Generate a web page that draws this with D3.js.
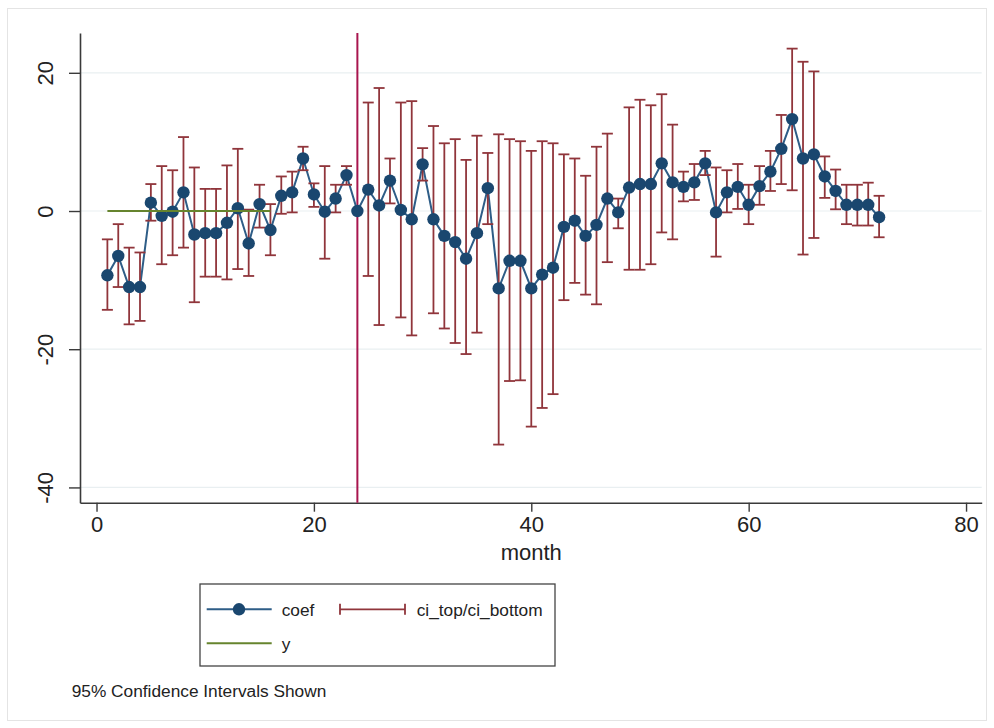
<!DOCTYPE html>
<html>
<head>
<meta charset="utf-8">
<script src="https://cdn.jsdelivr.net/npm/d3@7"></script>
<style>
  html, body { margin: 0; padding: 0; background: #ffffff; }
  svg { display: block; }
  text { font-family: "Liberation Sans", Arial, Helvetica, sans-serif; fill: #222; }
</style>
</head>
<body>
<svg id="chart" width="994" height="728"></svg>
<script>
// ---- data ----
const months = d3.range(1, 73);
const coef = [
  -9.3, -6.5, -11.0, -11.0, 1.2, -0.7, -0.1, 2.7, -3.4, -3.2,
  -3.2, -1.7, 0.4, -4.7, 1.0, -2.75, 2.2, 2.7, 7.6, 2.4,
  -0.1, 1.8, 5.2, 0.0, 3.1, 0.8, 4.4, 0.15, -1.2, 6.75,
  -1.2, -3.6, -4.5, -6.9, -3.2, 3.3, -11.2, -7.2, -7.2, -11.2,
  -9.2, -8.2, -2.3, -1.4, -3.6, -2.0, 1.8, -0.2, 3.4, 3.9,
  3.9, 6.9, 4.15, 3.5, 4.15, 6.9, -0.2, 2.7, 3.5, 0.9,
  3.6, 5.7, 9.0, 13.3, 7.6, 8.2, 5.0, 2.9, 0.9, 0.9,
  0.9, -0.9
];
const ciTop = [
  -4.1, -1.9, -5.3, -6.0, 3.9, 6.5, 5.9, 10.7, 6.3, 3.2,
  3.2, 6.6, 9.0, 0.2, 3.8, 1.0, 5.0, 5.7, 9.3, 4.0,
  6.5, 3.8, 6.5, null, 15.7, 17.8, 7.6, 15.7, 15.9, 9.1,
  12.3, 9.8, 10.4, 7.4, 10.9, 8.4, 11.1, 10.4, 10.1, 8.7,
  10.1, 9.8, 8.2, 7.6, 5.1, 9.3, 11.2, 1.8, 15.0, 16.1,
  15.3, 16.9, 12.5, 5.7, 6.8, 8.7, 6.3, 5.9, 6.8, 3.8,
  6.5, 8.7, 13.9, 23.5, 21.6, 20.2, 7.9, 6.0, 3.8, 3.8,
  4.1, 2.2
];
const ciBottom = [
  -14.3, -11.0, -16.4, -15.9, -1.4, -7.7, -6.4, -5.3, -13.2, -9.5,
  -9.5, -9.9, -8.4, -9.4, -2.4, -6.4, -0.4, -0.2, 5.9, 0.6,
  -6.9, -0.2, 3.8, null, -9.4, -16.5, 1.1, -15.4, -18.0, 4.4,
  -14.8, -17.0, -19.1, -20.7, -17.6, -1.9, -33.8, -24.6, -24.5, -31.2,
  -28.5, -26.5, -12.9, -10.4, -12.1, -13.5, -7.4, -2.5, -8.5, -8.5,
  -7.7, -3.1, -4.1, 1.4, 1.6, 5.2, -6.6, -0.2, 0.3, -1.9,
  0.9, 2.9, 3.9, 3.0, -6.3, -3.9, 1.9, 0.25, -1.9, -2.1,
  -2.1, -3.8
];
const yMonths = d3.range(1, 17);
const yValues = yMonths.map(() => 0);
const xTicks = [0, 20, 40, 60, 80];
const yTicks = [-40, -20, 0, 20];
const xLineAt = 24;
const legendLabels = ["coef", "ci_top/ci_bottom", "y"];
const xTitle = "month";
const noteText = "95% Confidence Intervals Shown";

// ---- colours ----
const NAVY = "#1a476f";
const NAVY_LINE = "#2e5d87";
const MAROON = "#90353b";
const GREEN = "#66842e";
const XLINE = "#a8154e";
const AXIS = "#3a3a3a";
const GRID = "#e9eff1";

const svg = d3.select("#chart");

// outer frame
svg.append("rect").attr("x", 7.5).attr("y", 8.5).attr("width", 979).attr("height", 712)
  .attr("fill", "#ffffff").attr("stroke", "#e4e4e4").attr("stroke-width", 1);

const x = d3.scaleLinear().domain([-1.52, 81.44]).range([80, 981.7]);
const y = d3.scaleLinear().domain([-42.21, 25.76]).range([502.7, 33]);

const fmt = d => String(d);

// grid
svg.append("g").selectAll("line").data(yTicks).join("line")
  .attr("x1", 80).attr("x2", 981.7)
  .attr("y1", d => y(d)).attr("y2", d => y(d))
  .attr("stroke", GRID).attr("stroke-width", 1.2);

// axes
const xAxis = d3.axisBottom(x).tickValues(xTicks).tickSize(9).tickPadding(5).tickSizeOuter(0).tickFormat(fmt);
const gx = svg.append("g").attr("transform", `translate(0,${y.range()[0]})`).call(xAxis);
gx.select(".domain").attr("stroke", AXIS).attr("stroke-width", 1.6);
gx.selectAll(".tick line").attr("stroke", AXIS).attr("stroke-width", 1.4);
gx.selectAll(".tick text").attr("font-size", 22).attr("fill", "#222")
  .style("font-family", '"Liberation Sans", Arial, sans-serif');

const yAxis = d3.axisLeft(y).tickValues(yTicks).tickSize(11).tickSizeOuter(0).tickFormat(fmt);
const gy = svg.append("g").attr("transform", `translate(${x.range()[0]},0)`).call(yAxis);
gy.select(".domain").attr("stroke", AXIS).attr("stroke-width", 1.6);
gy.selectAll(".tick line").attr("stroke", AXIS).attr("stroke-width", 1.4);
gy.selectAll(".tick text").remove();
gy.selectAll(".tick").append("text")
  .attr("transform", "translate(-35,0) rotate(-90)")
  .attr("text-anchor", "middle")
  .attr("font-size", 22)
  .attr("dy", "0.35em")
  .attr("fill", "#222")
  .style("font-family", '"Liberation Sans", Arial, sans-serif')
  .text(fmt);

// x axis title
svg.append("text").attr("x", (x(0) + x(80)) / 2).attr("y", 560)
  .attr("text-anchor", "middle").attr("font-size", 22).text(xTitle);

// vertical reference line
svg.append("line").attr("x1", x(xLineAt)).attr("x2", x(xLineAt))
  .attr("y1", y.range()[1]).attr("y2", y.range()[0])
  .attr("stroke", XLINE).attr("stroke-width", 2);

// data rows
const rows = months.map((m, i) => ({ m, c: coef[i], t: ciTop[i], b: ciBottom[i] }));
const ciRows = rows.filter(r => r.t !== null && r.b !== null);
const capHalf = 5.5;

// coef connected line
const line = d3.line().x(d => x(d.m)).y(d => y(d.c));
svg.append("path").datum(rows).attr("d", line)
  .attr("fill", "none").attr("stroke", NAVY_LINE).attr("stroke-width", 2);

// CIs (rcap)
const gci = svg.append("g").attr("stroke", MAROON).attr("stroke-width", 1.8).attr("fill", "none");
gci.selectAll("line.v").data(ciRows).join("line").attr("class", "v")
  .attr("x1", d => x(d.m)).attr("x2", d => x(d.m))
  .attr("y1", d => y(d.t)).attr("y2", d => y(d.b));
gci.selectAll("line.t").data(ciRows).join("line").attr("class", "t")
  .attr("x1", d => x(d.m) - capHalf).attr("x2", d => x(d.m) + capHalf)
  .attr("y1", d => y(d.t)).attr("y2", d => y(d.t));
gci.selectAll("line.b").data(ciRows).join("line").attr("class", "b")
  .attr("x1", d => x(d.m) - capHalf).attr("x2", d => x(d.m) + capHalf)
  .attr("y1", d => y(d.b)).attr("y2", d => y(d.b));

// coef markers
svg.append("g").selectAll("circle").data(rows).join("circle")
  .attr("cx", d => x(d.m)).attr("cy", d => y(d.c)).attr("r", 6.2)
  .attr("fill", NAVY);

// y line
const yl = d3.line().x((d, i) => x(yMonths[i])).y(d => y(d));
svg.append("path").datum(yValues).attr("d", yl)
  .attr("fill", "none").attr("stroke", GREEN).attr("stroke-width", 2);

// legend
const lg = svg.append("g");
lg.append("rect").attr("x", 200).attr("y", 584).attr("width", 355).attr("height", 82)
  .attr("fill", "#fff").attr("stroke", "#444").attr("stroke-width", 1.3);
const r1 = 609.3, r2 = 643.3;
lg.append("line").attr("x1", 206.7).attr("x2", 271.7).attr("y1", r1).attr("y2", r1)
  .attr("stroke", NAVY_LINE).attr("stroke-width", 2);
lg.append("circle").attr("cx", 239).attr("cy", r1).attr("r", 6.2).attr("fill", NAVY);
lg.append("text").attr("x", 281.7).attr("y", r1 + 7).attr("font-size", 17.3).text(legendLabels[0]);
lg.append("line").attr("x1", 340).attr("x2", 405).attr("y1", r1).attr("y2", r1)
  .attr("stroke", MAROON).attr("stroke-width", 1.8);
[340, 405].forEach(px => lg.append("line").attr("x1", px).attr("x2", px)
  .attr("y1", r1 - 5.5).attr("y2", r1 + 5.5).attr("stroke", MAROON).attr("stroke-width", 1.8));
lg.append("text").attr("x", 416.7).attr("y", r1 + 7).attr("font-size", 17.3).text(legendLabels[1]);
lg.append("line").attr("x1", 206.7).attr("x2", 271.7).attr("y1", r2).attr("y2", r2)
  .attr("stroke", GREEN).attr("stroke-width", 2);
lg.append("text").attr("x", 281.7).attr("y", r2 + 7).attr("font-size", 17.3).text(legendLabels[2]);

// note
svg.append("text").attr("x", 71.7).attr("y", 697).attr("font-size", 17.3).text(noteText);
</script>
</body>
</html>
